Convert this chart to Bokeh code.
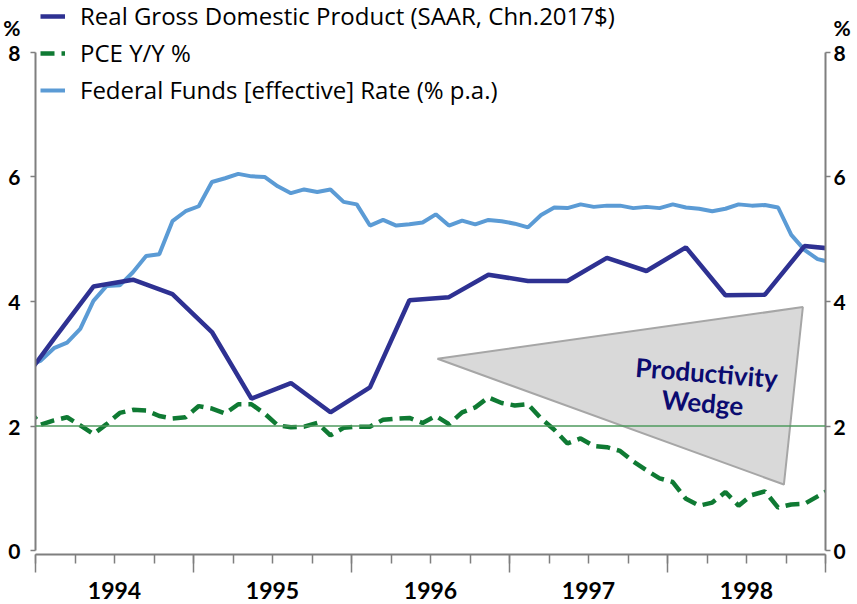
from bokeh.plotting import figure
from bokeh.models import (ColumnDataSource, LinearAxis, FixedTicker, Range1d,
                          Legend, LegendItem, Span, Label)
from bokeh.embed import file_html
from bokeh.resources import INLINE

# ---------------- data ----------------
year_labels = ["1994", "1995", "1996", "1997", "1998"]
y_ticks = [0, 2, 4, 6, 8]
y_unit = "%"

# month index: 0 = Jan 1994
# Federal funds effective rate, monthly Dec 1993 .. Jan 1999 (% p.a.)
ff_month = list(range(-1, 61))
ff_rate = [2.96,
           3.05, 3.25, 3.34, 3.56, 4.01, 4.25, 4.26, 4.47, 4.73, 4.76, 5.29, 5.45,
           5.53, 5.92, 5.98, 6.05, 6.01, 6.00, 5.85, 5.74, 5.80, 5.76, 5.80, 5.60,
           5.56, 5.22, 5.31, 5.22, 5.24, 5.27, 5.40, 5.22, 5.30, 5.24, 5.31, 5.29,
           5.25, 5.19, 5.39, 5.51, 5.50, 5.56, 5.52, 5.54, 5.54, 5.50, 5.52, 5.50,
           5.56, 5.51, 5.49, 5.45, 5.49, 5.56, 5.54, 5.55, 5.51, 5.07, 4.83, 4.68,
           4.63]

# PCE price index, Y/Y %, monthly Dec 1993 .. Jan 1999
pce_month = list(range(-1, 61))
pce_yy = [2.28,
          2.02, 2.09, 2.14, 2.01, 1.87, 2.03, 2.21, 2.26, 2.25, 2.16, 2.12, 2.14,
          2.32, 2.28, 2.20, 2.35, 2.35, 2.20, 2.01, 1.98, 1.99, 2.05, 1.85, 1.97,
          1.99, 1.99, 2.10, 2.12, 2.13, 2.05, 2.16, 2.03, 2.22, 2.30, 2.46, 2.37,
          2.33, 2.35, 2.12, 1.94, 1.72, 1.80, 1.68, 1.66, 1.60, 1.43, 1.29, 1.16,
          1.10, 0.83, 0.72, 0.77, 0.94, 0.72, 0.89, 0.95, 0.69, 0.74, 0.75, 0.87,
          0.99]

# Real GDP Y/Y %, quarterly (mid-quarter month) 1993Q4 .. 1999Q1
gdp_month = list(range(-2, 62, 3))
gdp_yy = [2.54, 3.40, 4.24, 4.35, 4.12, 3.51, 2.44, 2.69, 2.22, 2.62, 4.02,
          4.07, 4.43, 4.33, 4.33, 4.70, 4.49, 4.87, 4.10, 4.11, 4.89, 4.83]

# "Productivity wedge" triangle (chart units: month index, %)
wedge_x = [30.53, 58.28, 56.84]
wedge_y = [3.08, 3.91, 1.06]
reference_rate = 2.0

IN_MONTH = 0.4  # observations sit inside their month on the date axis


def xs(months):
    return [m + IN_MONTH for m in months]


AXIS_GREY = "#7F7F7F"
FONT = "Lato"
Y_TOP = 8.835   # headroom above the 8% tick that holds the legend

p = figure(width=857, height=604,
           x_range=Range1d(0, 60), y_range=Range1d(-0.064, Y_TOP),
           output_backend="svg", toolbar_location=None,
           min_border_left=33, min_border_right=32,
           min_border_top=0, min_border_bottom=50)
p.xgrid.visible = False
p.ygrid.visible = False
p.outline_line_color = None
p.background_fill_color = "white"

# ---- x axis: ticks (year boundaries long, quarters short) ----
year_bounds = [12 * i for i in range(len(year_labels) + 1)]
quarters = list(range(0, 12 * len(year_labels) + 1, 3))
xa = p.xaxis[0]
xa.ticker = FixedTicker(ticks=year_bounds, minor_ticks=quarters)
xa.major_label_overrides = {t: "" for t in year_bounds}
xa.major_label_text_font_size = "0px"
xa.major_label_standoff = 0
xa.major_tick_out = 18
xa.major_tick_in = 0
xa.minor_tick_out = 9
xa.minor_tick_in = 0
xa.axis_line_color = AXIS_GREY
xa.axis_line_width = 2
xa.major_tick_line_color = AXIS_GREY
xa.minor_tick_line_color = AXIS_GREY
xa.major_tick_line_width = 1.5
xa.minor_tick_line_width = 1.5

# ---- x axis: year labels centred in each year ----
year_centres = [12 * i + 6 for i in range(len(year_labels))]
la = LinearAxis(ticker=FixedTicker(ticks=year_centres, minor_ticks=[]),
                major_label_overrides={c: l for c, l in zip(year_centres, year_labels)},
                axis_line_color=None, major_tick_line_color=None,
                minor_tick_line_color=None, major_tick_out=0, major_tick_in=0,
                minor_tick_out=0, minor_tick_in=0, major_label_standoff=9,
                major_label_text_font=FONT, major_label_text_font_style="bold",
                major_label_text_font_size="23px", major_label_text_color="black")
p.add_layout(la, "below")

# ---- y axes (line limited to 0..8, unit shown above the top tick) ----
def style_y(ax, standoff):
    ax.ticker = FixedTicker(ticks=y_ticks, minor_ticks=[])
    ax.bounds = (y_ticks[0], y_ticks[-1])
    ax.major_label_overrides = {y_ticks[-1]: y_unit + "\n" + str(y_ticks[-1]) + "\n "}
    ax.major_tick_out = 5
    ax.major_tick_in = 0
    ax.minor_tick_line_color = None
    ax.axis_line_color = AXIS_GREY
    ax.axis_line_width = 2
    ax.major_tick_line_color = AXIS_GREY
    ax.major_tick_line_width = 1.5
    ax.major_label_text_font = FONT
    ax.major_label_text_font_style = "bold"
    ax.major_label_text_font_size = "21px"
    ax.major_label_text_line_height = 1.0
    ax.major_label_text_color = "black"
    ax.major_label_standoff = standoff


style_y(p.yaxis[0], 10)
ra = LinearAxis()
style_y(ra, 3)
p.add_layout(ra, "right")

# ---- wedge ----
p.patch(wedge_x, wedge_y, fill_color="#D9D9D9", line_color="#A6A6A6", line_width=2)

# ---- series ----
ff_src = ColumnDataSource(dict(x=xs(ff_month), y=ff_rate))
pce_src = ColumnDataSource(dict(x=xs(pce_month), y=pce_yy))
gdp_src = ColumnDataSource(dict(x=xs(gdp_month), y=gdp_yy))

ff_r = p.line("x", "y", source=ff_src, line_color="#5B9BD5", line_width=4)
pce_r = p.line("x", "y", source=pce_src, line_color="#0F7A33", line_width=4.5,
               line_dash="14 7")
gdp_r = p.line("x", "y", source=gdp_src, line_color="#2E3192", line_width=4.5)

p.add_layout(Span(location=reference_rate, dimension="width",
                  line_color="#4E9A5E", line_width=1.3))

# ---- wedge text ----
for txt, x, y in [("Productivity", 50.97, 2.86), ("Wedge", 50.66, 2.38)]:
    p.add_layout(Label(x=x, y=y, text=txt, angle=-0.08, text_align="center",
                       text_baseline="middle", text_font=FONT,
                       text_font_style="bold", text_font_size="26px",
                       text_color="#0B0B70"))

# ---- legend (bottom-left anchored, in the headroom above the data) ----
legend = Legend(items=[
    LegendItem(label="Real Gross Domestic Product (SAAR, Chn.2017$)", renderers=[gdp_r]),
    LegendItem(label="PCE Y/Y %", renderers=[pce_r]),
    LegendItem(label="Federal Funds [effective] Rate (% p.a.)", renderers=[ff_r]),
], location=(5, 448), orientation="vertical",
    background_fill_alpha=0, border_line_color=None, padding=0, margin=0,
    spacing=4, glyph_width=25, glyph_height=28, label_height=28,
    label_standoff=15, label_text_font="Open Sans", label_text_font_size="24px",
    label_text_color="black")
p.add_layout(legend)

open("out.html", "w").write(file_html(p, INLINE))
